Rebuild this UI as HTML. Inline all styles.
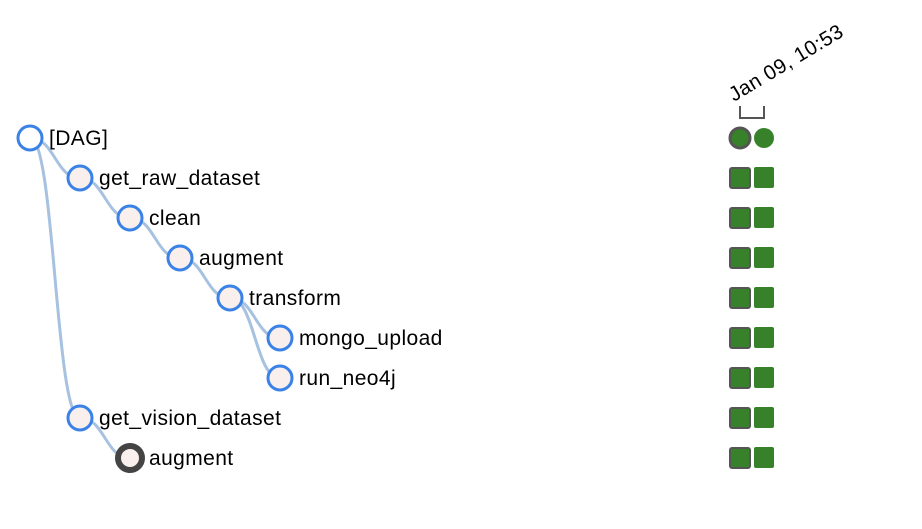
<!DOCTYPE html>
<html><head><style>body{margin:0;background:#fff}</style></head><body>
<svg width="922" height="524" xmlns="http://www.w3.org/2000/svg" style="font-family:'Liberation Sans',Arial,sans-serif">
<g fill="none" stroke="#a7c2e0" stroke-width="3">
<path d="M30,138 C55,138 55,178 80,178"/>
<path d="M80,178 C105,178 105,218 130,218"/>
<path d="M130,218 C155,218 155,258 180,258"/>
<path d="M180,258 C205,258 205,298 230,298"/>
<path d="M230,298 C255,298 255,338 280,338"/>
<path d="M230,298 C255,298 255,378 280,378"/>
<path d="M30,138 C55,138 55,418 80,418"/>
<path d="M80,418 C105,418 105,458 130,458"/>
</g>
<g stroke="#3b82e6" stroke-width="3" fill="#f9efec">
<circle cx="30" cy="138" r="12" fill="#fff"/>
<circle cx="80" cy="178" r="12"/>
<circle cx="130" cy="218" r="12"/>
<circle cx="180" cy="258" r="12"/>
<circle cx="230" cy="298" r="12"/>
<circle cx="280" cy="338" r="12"/>
<circle cx="280" cy="378" r="12"/>
<circle cx="80" cy="418" r="12"/>
</g>
<circle cx="130" cy="458" r="12" fill="#f9efec" stroke="#444" stroke-width="6"/>
<g font-size="21" fill="#000" letter-spacing="0.4">
<text x="49" y="145">[DAG]</text>
<text x="99" y="185">get_raw_dataset</text>
<text x="149" y="225">clean</text>
<text x="199" y="265">augment</text>
<text x="249" y="305">transform</text>
<text x="299" y="345">mongo_upload</text>
<text x="299" y="385">run_neo4j</text>
<text x="99" y="425">get_vision_dataset</text>
<text x="149" y="465">augment</text>
</g>
<text x="0" y="0" font-size="20.5" letter-spacing="0.4" transform="translate(734,102) rotate(-31)">Jan 09, 10:53</text>
<path d="M740,106 V118 H764 V106" fill="none" stroke="#555" stroke-width="2"/>
<circle cx="740" cy="138" r="10" fill="#37812a" stroke="#555" stroke-width="3"/>
<circle cx="764" cy="138" r="10" fill="#37812a"/>
<g fill="#37812a">
<g id="r"><rect x="730" y="168" width="20" height="20" rx="2" stroke="#555" stroke-width="2"/><rect x="754" y="167" width="20" height="21" rx="2"/></g>
<use href="#r" y="40"/><use href="#r" y="80"/><use href="#r" y="120"/><use href="#r" y="160"/><use href="#r" y="200"/><use href="#r" y="240"/><use href="#r" y="280"/>
</g>
</svg>
</body></html>
